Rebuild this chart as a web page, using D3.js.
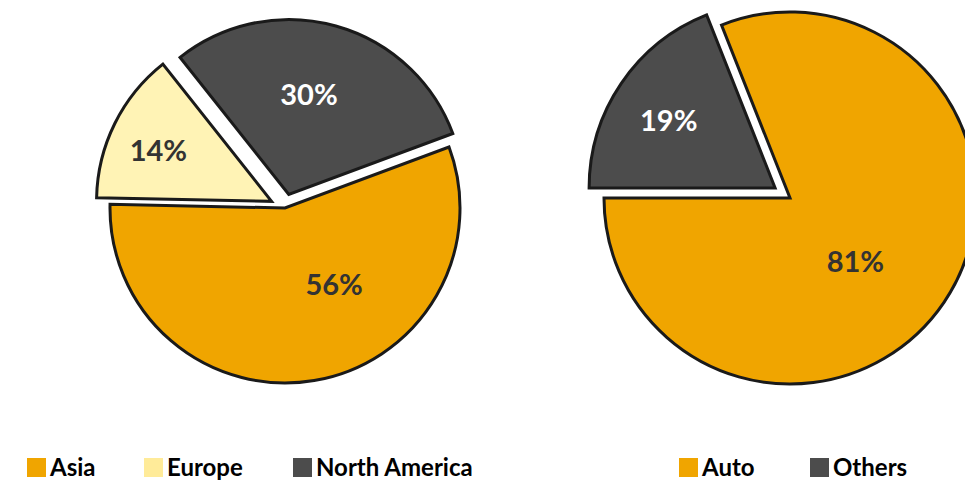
<!DOCTYPE html>
<html>
<head>
<meta charset="utf-8">
<script src="https://cdn.jsdelivr.net/npm/d3@7"></script>
<style>
  html, body { margin: 0; padding: 0; background: #fff; }
  svg { display: block; }
  text { font-family: Lato, "Open Sans", sans-serif; font-weight: 700; }
</style>
</head>
<body>
<svg id="chart" width="965" height="480"></svg>
<script>
// ---- data ----
const regionCategories = ["Asia", "Europe", "North America"];
const regionValues = [56, 14, 30];
const useCategories = ["Auto", "Others"];
const useValues = [81, 19];

// ---- styles / layout ----
const colors = {
  "Asia": "#F0A500", "Europe": "#FFF3B5", "North America": "#4C4C4C",
  "Auto": "#F0A500", "Others": "#4C4C4C"
};
const legendColors = { "Europe": "#FFEB99" };
const labelColors = {
  "Asia": "#333333", "Europe": "#333333", "North America": "#ffffff",
  "Auto": "#333333", "Others": "#ffffff"
};

const pies = [
  { cats: regionCategories, vals: regionValues, cx: 285, cy: 208, r: 175,
    startDeg: 69.6, explode: { "Europe": 15, "North America": 14 },
    nudge: { "Asia": [31, -31], "Europe": [-16, -4], "North America": [-9, 3] },
    legendX: [27, 144, 293] },
  { cats: useCategories, vals: useValues, cx: 790, cy: 198, r: 186,
    startDeg: -21.6, explode: { "Others": 18 },
    nudge: { "Auto": [-30, -2], "Others": [-11, -4] },
    legendX: [679, 810] }
];

const svg = d3.select("#chart");

pies.forEach(p => {
  const data = p.cats.map((c, i) => ({ cat: c, value: p.vals[i] }));
  const start = p.startDeg * Math.PI / 180;
  const pie = d3.pie().value(d => d.value).sort(null)
    .startAngle(start).endAngle(start + 2 * Math.PI);
  const arcs = pie(data);
  const arc = d3.arc().innerRadius(0).outerRadius(p.r);
  const labelArc = d3.arc().innerRadius(0).outerRadius(p.r * 1.24);

  const g = svg.append("g").attr("transform", `translate(${p.cx},${p.cy})`);

  const slices = g.selectAll("g.slice").data(arcs).enter().append("g")
    .attr("class", "slice")
    .attr("transform", d => {
      const off = p.explode[d.data.cat] || 0;
      const mid = (d.startAngle + d.endAngle) / 2;
      return `translate(${off * Math.sin(mid)},${-off * Math.cos(mid)})`;
    });

  slices.append("path")
    .attr("d", arc)
    .attr("fill", d => colors[d.data.cat])
    .attr("stroke", "#1a1a1a")
    .attr("stroke-width", 3)
    .attr("stroke-linejoin", "miter");

  slices.append("text")
    .attr("transform", d => {
      const c = labelArc.centroid(d);
      const n = p.nudge[d.data.cat] || [0, 0];
      return `translate(${c[0] + n[0]},${c[1] + n[1]})`;
    })
    .attr("text-anchor", "middle")
    .attr("dominant-baseline", "central")
    .attr("font-size", 29)
    .attr("fill", d => labelColors[d.data.cat])
    .text(d => d.data.value + "%");

  // legend
  const lg = svg.append("g");
  p.cats.forEach((c, i) => {
    const x = p.legendX[i];
    lg.append("rect")
      .attr("x", x).attr("y", 458).attr("width", 19).attr("height", 19)
      .attr("fill", legendColors[c] || colors[c]);
    lg.append("text")
      .attr("x", x + 23).attr("y", 476)
      .attr("font-size", 24)
      .attr("fill", "#000")
      .text(c);
  });
});
</script>
</body>
</html>
